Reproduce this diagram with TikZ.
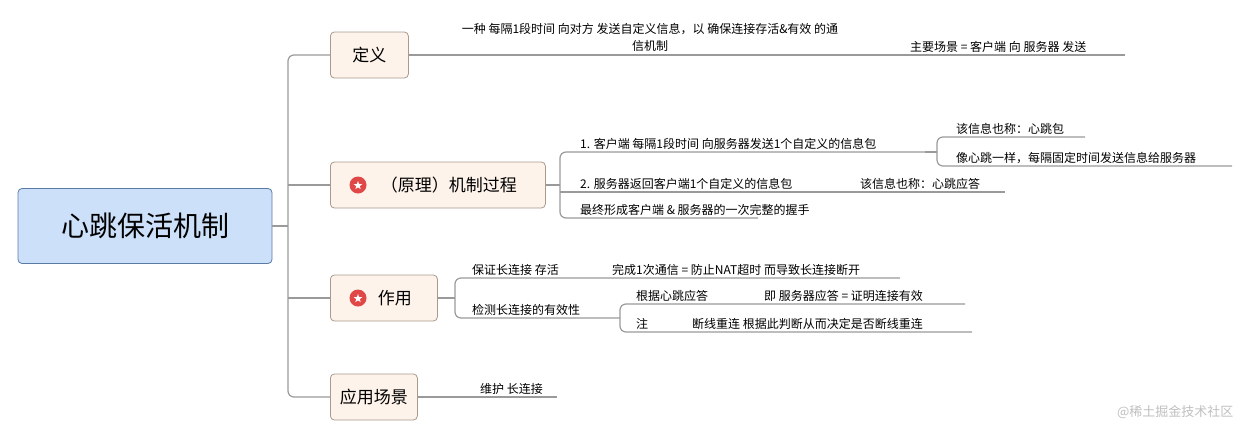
\documentclass[tikz,border=0pt]{standalone}
\usepackage{fontspec}
\setmainfont{Noto Sans CJK SC}
\usetikzlibrary{shapes.geometric}
\definecolor{ln}{HTML}{9A9A9A}
\definecolor{rootf}{HTML}{CCE0FA}
\definecolor{rootd}{HTML}{5A7BA6}
\definecolor{brf}{HTML}{FDF3EA}
\definecolor{brd}{HTML}{A89B8E}
\definecolor{starred}{HTML}{E04848}
\begin{document}
\begin{tikzpicture}[x=1pt,y=-1pt,
  conn/.style={draw=ln,line width=1.2pt,rounded corners=6pt},
  rootbox/.style={draw=rootd,fill=rootf,rounded corners=4pt,line width=0.8pt,minimum width=254pt,minimum height=75pt,font=\fontsize{28}{32}\selectfont},
  brbox/.style={draw=brd,fill=brf,rounded corners=4pt,line width=0.8pt,minimum height=46pt,font=\fontsize{17}{20}\selectfont,anchor=west},
  leaf/.style={anchor=south west,inner sep=2pt,font=\fontsize{12}{14}\selectfont}]
\useasboundingbox (0,0) rectangle (1240,429);
\node[rootbox] (root) at (145,226) {心跳保活机制};
\node[brbox,minimum width=78pt] (def) at (330,55) {定义};
\node[brbox,minimum width=215pt] (mech) at (330,185) {\hspace*{22pt}（原理）机制过程};
\node[brbox,minimum width=107pt] (use) at (330,298) {\hspace*{22pt}作用};
\node[brbox,minimum width=87pt] (app) at (330,397) {应用场景};
\foreach \yy in {185,298}{
  \fill[starred] (358,\yy) circle (8.5pt);
  \node[star,star points=5,star point ratio=2.4,fill=white,inner sep=0pt,minimum size=9pt] at (358,\yy+0.5) {};
}
% spine
\draw[conn] (root.east) -- (288,226);
\draw[conn] (def.west) -- (288,55) -- (288,397) -- (app.west);
\draw[conn] (288,185) -- (mech.west);
\draw[conn] (288,298) -- (use.west);
% definition
\draw[conn] (def.east) -- (1125,55);
\node[align=center,font=\fontsize{12}{17}\selectfont] (d1) at (650,37) {一种 每隔1段时间 向对方 发送自定义信息，以 确保连接存活\&有效 的通\\信机制};
\node[leaf] (d2) at (908,55) {主要场景 = 客户端 向 服务器 发送};
% mechanism
\draw[conn] (mech.east) -- (560,185);
\draw[conn] (925,152) -- (560,152) -- (560,218) -- (758,218);
\draw[conn] (560,192) -- (1005,192);
\node[leaf] (m1) at (578,152) {1. 客户端 每隔1段时间 向服务器发送1个自定义的信息包};
\node[leaf] (m2) at (578,192) {2. 服务器返回客户端1个自定义的信息包};
\node[leaf] (m3) at (578,218) {最终形成客户端 \& 服务器的一次完整的握手};
\node[leaf] (m21) at (858,192) {该信息也称：心跳应答};
\draw[conn] (925,152) -- (937,152);
\draw[conn] (1085,137) -- (937,137) -- (937,166) -- (1232,166);
\node[leaf] (m11) at (954,137) {该信息也称：心跳包};
\node[leaf] (m12) at (954,166) {像心跳一样，每隔固定时间发送信息给服务器};
% use
\draw[conn] (use.east) -- (455,298);
\draw[conn] (900,278) -- (455,278) -- (455,318) -- (620,318);
\node[leaf] (u1) at (470,278) {保证长连接 存活};
\node[leaf] (u11) at (610,278) {完成1次通信 = 防止NAT超时 而导致长连接断开};
\node[leaf] (u2) at (470,318) {检测长连接的有效性};
\draw[conn] (965,304) -- (620,304) -- (620,332) -- (972,332);
\node[leaf] (u21) at (634,304) {根据心跳应答};
\node[leaf] (u211) at (762,304) {即 服务器应答 = 证明连接有效};
\node[leaf] (u22) at (634,332) {注};
\node[leaf] (u221) at (690,332) {断线重连 根据此判断从而决定是否断线重连};
% application
\draw[conn] (app.east) -- (557,397);
\node[leaf] (a1) at (478,397) {维护 长连接};
\node[anchor=east,text=black!25,font=\fontsize{13}{15}\selectfont] (wm) at (1237,412) {@稀土掘金技术社区};
\end{tikzpicture}
\end{document}
